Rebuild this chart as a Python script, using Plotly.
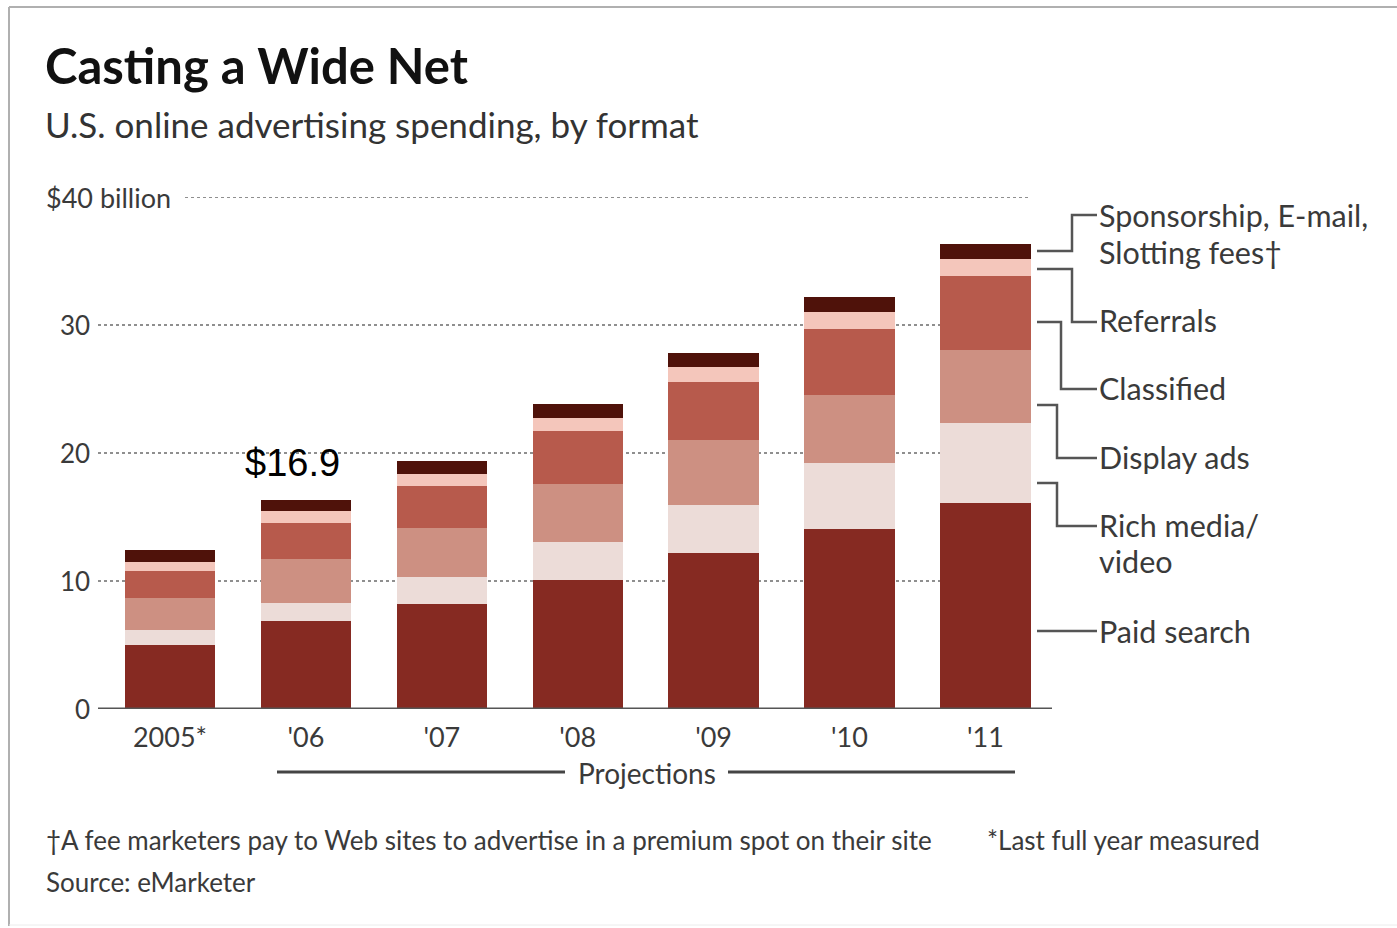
import plotly.graph_objects as go

# ---------------- data ----------------
years = ["2005*", "'06", "'07", "'08", "'09", "'10", "'11"]
paid_search = [5.0, 6.9, 8.2, 10.1, 12.2, 14.1, 16.1]
rich_media = [1.15, 1.35, 2.1, 2.95, 3.7, 5.1, 6.25]
display_ads = [2.5, 3.5, 3.85, 4.55, 5.1, 5.35, 5.7]
classified = [2.15, 2.8, 3.3, 4.1, 4.55, 5.15, 5.75]
referrals = [0.68, 0.93, 0.9, 1.0, 1.2, 1.3, 1.35]
sponsorship = [0.98, 0.85, 1.0, 1.1, 1.1, 1.2, 1.2]

series_names = ["Paid search", "Rich media/video", "Display ads", "Classified",
                "Referrals", "Sponsorship, E-mail, Slotting fees"]
series_values = [paid_search, rich_media, display_ads, classified, referrals, sponsorship]
series_colors = ["#862a22", "#ecdcd8", "#cd9082", "#b75a4c", "#f4c6bb", "#4f120a"]

y_ticks = [0, 10, 20, 30, 40]
y_tick_labels = ["0", "10", "20", "30", "$40 billion"]

# ---------------- layout geometry ----------------
W, H = 1397, 928
L, R = 100, 1052   # plot area x pixels
T, B = 197, 709    # plot area y pixels

def px(xp):
    return (xp - L) / (R - L)

def py(yp):
    return (B - yp) / (B - T)

FONT = "Lato"
GRAY = "#3a3a3a"

xs = list(range(len(years)))

fig = go.Figure()
for name, vals, col in zip(series_names, series_values, series_colors):
    fig.add_trace(go.Bar(x=xs, y=vals, name=name, marker=dict(color=col, line=dict(width=0)),
                         width=0.665, hoverinfo="name+y"))

shapes = []
# dotted gridlines
for v in y_ticks[1:]:
    x0 = 185 if v == 40 else 98
    shapes.append(dict(type="line", xref="paper", yref="y", x0=px(x0), x1=px(1030), y0=v, y1=v,
                       line=dict(color="#8f8f8f", width=2, dash="dot"), layer="below"))
# baseline
shapes.append(dict(type="line", xref="paper", yref="y", x0=px(98), x1=px(1052), y0=0, y1=0,
                   line=dict(color="#555555", width=3), layer="above"))

# projections lines
for a, b in [(277, 565), (728, 1015)]:
    shapes.append(dict(type="line", xref="paper", yref="paper", x0=px(a), x1=px(b), y0=py(772), y1=py(772),
                       line=dict(color="#444444", width=3)))

# legend connector brackets (pixel positions)
conn = [
    # (y_left, x_bend, y_text)
    (251, 1072, 215),
    (269, 1072, 322),
    (322, 1061, 389),
    (405, 1057, 458),
    (483, 1057, 526),
]
for yl, xb, yt in conn:
    path = f"M {px(1037)},{py(yl)} L {px(xb)},{py(yl)} L {px(xb)},{py(yt)} L {px(1097)},{py(yt)}"
    shapes.append(dict(type="path", xref="paper", yref="paper", path=path,
                       line=dict(color="#555555", width=2.5)))
shapes.append(dict(type="line", xref="paper", yref="paper", x0=px(1037), x1=px(1097), y0=py(631), y1=py(631),
                   line=dict(color="#555555", width=2.5)))

# frame
shapes.append(dict(type="line", xref="paper", yref="paper", x0=px(9), x1=px(1397), y0=py(7), y1=py(7),
                   line=dict(color="#b0b0b0", width=2)))
shapes.append(dict(type="line", xref="paper", yref="paper", x0=px(9), x1=px(9), y0=py(7), y1=py(926),
                   line=dict(color="#b0b0b0", width=2)))
shapes.append(dict(type="line", xref="paper", yref="paper", x0=px(9), x1=px(1397), y0=py(925), y1=py(925),
                   line=dict(color="#ececec", width=1)))

ann = []
def text(x, y, s, size, color=GRAY, xanchor="left", yanchor="middle", family=FONT, weight=None):
    f = dict(family=family, size=size, color=color)
    if weight:
        f["weight"] = weight
    ann.append(dict(xref="paper", yref="paper", x=px(x), y=py(y), text=s, showarrow=False,
                    xanchor=xanchor, yanchor=yanchor, font=f))

text(43, 65, "Casting a Wide Net", 49, color="#111111", weight=700)
text(43, 124, "U.S. online advertising spending, by format", 35, color="#333333")

# y tick labels
for v, lab in zip(y_ticks, y_tick_labels):
    if v == 40:
        ann.append(dict(xref="paper", yref="y", x=px(44), y=v, text=lab, showarrow=False,
                        xanchor="left", yanchor="middle", font=dict(family=FONT, size=27, color=GRAY)))
    else:
        ann.append(dict(xref="paper", yref="y", x=px(92), y=v, text=lab, showarrow=False,
                        xanchor="right", yanchor="middle", font=dict(family=FONT, size=26, color=GRAY)))

text(647, 773, "Projections", 28, xanchor="center")

# legend labels
LS = 30.5
text(1097, 215, "Sponsorship, E-mail,", LS)
text(1097, 252, "Slotting fees†", LS)
text(1097, 320, "Referrals", LS)
text(1097, 388, "Classified", LS)
text(1097, 457, "Display ads", LS)
text(1097, 525, "Rich media/", LS)
text(1097, 561, "video", LS)
text(1097, 631, "Paid search", LS)

# footnotes
FS = 26
text(44, 840, "†A fee marketers pay to Web sites to advertise in a premium spot on their site", FS)
text(985, 840, "*Last full year measured", FS)
text(44, 882, "Source: eMarketer", FS)

# value annotation
ann.append(dict(xref="x", yref="y", x=0.9, y=19.2, text="$16.9", showarrow=False,
                xanchor="center", yanchor="middle",
                font=dict(family="Liberation Sans, Arial", size=38, color="#000000")))

fig.update_layout(
    width=W, height=H,
    margin=dict(l=L, r=W - R, t=T, b=H - B, pad=0),
    paper_bgcolor="white", plot_bgcolor="white",
    barmode="stack", showlegend=False,
    xaxis=dict(range=[-0.515, 6.49], tickmode="array", tickvals=xs, ticktext=years,
               showgrid=False, zeroline=False, showline=False, ticks="",
               tickfont=dict(family=FONT, size=27, color=GRAY), ticklabelstandoff=10),
    yaxis=dict(range=[0, 40], showgrid=False, zeroline=False, showline=False,
               showticklabels=False, ticks=""),
    shapes=shapes, annotations=ann,
)

fig.write_html("out.html")
